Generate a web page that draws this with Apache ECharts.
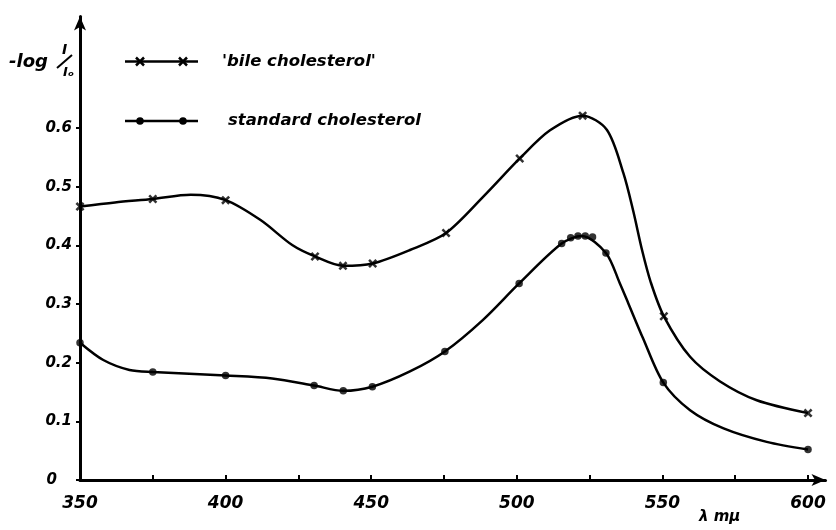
<!DOCTYPE html>
<html>
<head>
<meta charset="utf-8">
<script src="https://cdn.jsdelivr.net/npm/echarts@6/dist/echarts.min.js"></script>
<style>html,body{margin:0;padding:0;background:#fff}#c{width:836px;height:530px}</style>
</head>
<body>
<div id="c"></div>
<script>
// ---- data ----
const xTicks = [350, 375, 400, 425, 450, 475, 500, 525, 550, 575, 600];
const xLabels = [350, 400, 450, 500, 550, 600];
const yTicks = [0, 0.1, 0.2, 0.3, 0.4, 0.5, 0.6];

// 'bile cholesterol' measured points (crosses)
const bileX = [350, 375, 400, 430.7, 440.3, 450.5, 475.7, 501, 522.6, 550.5, 600];
const bileY = [0.466, 0.479, 0.477, 0.381, 0.365, 0.369, 0.421, 0.548, 0.621, 0.279, 0.114];
// drawn curve through them
const bileCurveX = [350, 362, 375, 388, 400, 412, 423, 430.7, 440.3, 450.5, 463.3, 475.7, 488.5, 501, 511.4, 522.6, 530.9, 536.6, 540, 543, 546, 550.5, 559.5, 569.8, 582.4, 600];
const bileCurveY = [0.466, 0.473, 0.479, 0.486, 0.477, 0.443, 0.400, 0.381, 0.365, 0.369, 0.392, 0.421, 0.483, 0.548, 0.596, 0.621, 0.597, 0.523, 0.458, 0.392, 0.337, 0.279, 0.210, 0.168, 0.136, 0.114];

// standard cholesterol measured points (dots)
const stdX = [350, 375, 400, 430.4, 440.4, 450.4, 475.3, 500.8, 515.4, 518.5, 521, 523.5, 526, 530.6, 550.3, 600];
const stdY = [0.234, 0.184, 0.178, 0.161, 0.152, 0.159, 0.219, 0.335, 0.403, 0.413, 0.416, 0.416, 0.414, 0.387, 0.166, 0.052];
const stdCurveX = [350, 358, 367, 375, 400, 416, 430.4, 440.4, 450.4, 463.3, 475.3, 488.4, 500.8, 515.4, 522.3, 530.6, 535.4, 538.3, 543.3, 550.3, 559.5, 571, 585.8, 600];
const stdCurveY = [0.234, 0.2045, 0.1875, 0.184, 0.178, 0.173, 0.161, 0.152, 0.159, 0.185, 0.219, 0.273, 0.335, 0.403, 0.416, 0.387, 0.335, 0.301, 0.242, 0.166, 0.119, 0.088, 0.065, 0.052];

const legendNames = ["'bile cholesterol'", 'standard cholesterol'];
// ---------------------------------------

const zip = (a, b) => a.map((v, i) => [v, b[i]]);
const FONT = '"DejaVu Sans", sans-serif';
const crossPath = 'path://M0,2L2,0L5,3L8,0L10,2L7,5L10,8L8,10L5,7L2,10L0,8L3,5Z';

const chart = echarts.init(document.getElementById('c'), null, {renderer: 'canvas'});

function legendRow(y, kind, label) {
  const els = [{type: 'line', shape: {x1: 125, y1: y, x2: 198, y2: y}, style: {stroke: '#000', lineWidth: 2.5}}];
  [140, 183].forEach(cx => {
    if (kind === 'cross') {
      els.push({type: 'line', shape: {x1: cx - 4, y1: y - 4, x2: cx + 4, y2: y + 4}, style: {stroke: '#000', lineWidth: 2.5}});
      els.push({type: 'line', shape: {x1: cx - 4, y1: y + 4, x2: cx + 4, y2: y - 4}, style: {stroke: '#000', lineWidth: 2.5}});
    } else {
      els.push({type: 'circle', shape: {cx: cx, cy: y, r: 3.8}, style: {fill: '#000'}});
    }
  });
  els.push({type: 'text', x: kind === 'cross' ? 222 : 228, y: y, style: {text: label, font: 'italic bold 16.5px ' + FONT, fill: '#000', verticalAlign: 'middle'}});
  return els;
}

const option = {
  animation: false,
  backgroundColor: '#fff',
  grid: {left: 80, right: 10.5, top: 16.5, bottom: 50, containLabel: false},
  xAxis: {
    type: 'value', min: 350, max: 606, interval: 25,
    axisLine: {show: true, lineStyle: {color: '#000', width: 3}, symbol: ['none', 'arrow'], symbolSize: [9, 14]},
    axisTick: {show: true, inside: true, length: 5, customValues: xTicks, lineStyle: {color: '#000', width: 2}},
    axisLabel: {customValues: xLabels, color: '#000', fontFamily: FONT, fontStyle: 'italic', fontWeight: 'bold', fontSize: 17, margin: 15},
    splitLine: {show: false}
  },
  yAxis: {
    type: 'value', min: 0, max: 0.79, interval: 0.1,
    axisLine: {show: true, lineStyle: {color: '#000', width: 3}, symbol: ['none', 'arrow'], symbolSize: [9, 14]},
    axisTick: {show: true, length: 4, customValues: yTicks, lineStyle: {color: '#000', width: 2}},
    axisLabel: {
      customValues: yTicks, color: '#000', fontFamily: FONT, fontStyle: 'italic', fontWeight: 'bold', fontSize: 15, margin: 8,
      formatter: v => v === 0 ? '{z|0}' : v.toFixed(1),
      rich: {z: {fontFamily: FONT, fontStyle: 'italic', fontWeight: 'bold', fontSize: 15, color: '#000', padding: [0, 15, 0, 0]}}
    },
    splitLine: {show: false}
  },
  graphic: [
    ...legendRow(61.5, 'cross', legendNames[0]),
    ...legendRow(121, 'dot', legendNames[1]),
    {type: 'text', x: 9, y: 62, style: {text: '-log', font: 'italic bold 18px ' + FONT, fill: '#000', verticalAlign: 'middle'}},
    {type: 'text', x: 62, y: 50, style: {text: 'I', font: 'italic bold 14px ' + FONT, fill: '#000', verticalAlign: 'middle'}},
    {type: 'line', shape: {x1: 57, y1: 68, x2: 72, y2: 55}, style: {stroke: '#000', lineWidth: 2}},
    {type: 'text', x: 63, y: 73, style: {text: 'I\u2092', font: 'italic bold 13px ' + FONT, fill: '#000', verticalAlign: 'middle'}},
    {type: 'text', x: 699, y: 517, style: {text: '\u03bb m\u03bc', font: 'italic bold 15px ' + FONT, fill: '#000', verticalAlign: 'middle'}}
  ],
  series: [
    {name: 'bile curve', type: 'line', data: zip(bileCurveX, bileCurveY), smooth: 0.3, symbol: 'none', lineStyle: {color: '#000', width: 2.5}, z: 2},
    {name: legendNames[0], type: 'scatter', data: zip(bileX, bileY), symbol: crossPath, symbolSize: 9, itemStyle: {color: '#000'}, z: 3},
    {name: 'std curve', type: 'line', data: zip(stdCurveX, stdCurveY), smooth: 0.3, symbol: 'none', lineStyle: {color: '#000', width: 2.5}, z: 2},
    {name: legendNames[1], type: 'scatter', data: zip(stdX, stdY), symbol: 'circle', symbolSize: 7.5, itemStyle: {color: '#000'}, z: 3}
  ]
};
chart.setOption(option);
</script>
</body>
</html>
